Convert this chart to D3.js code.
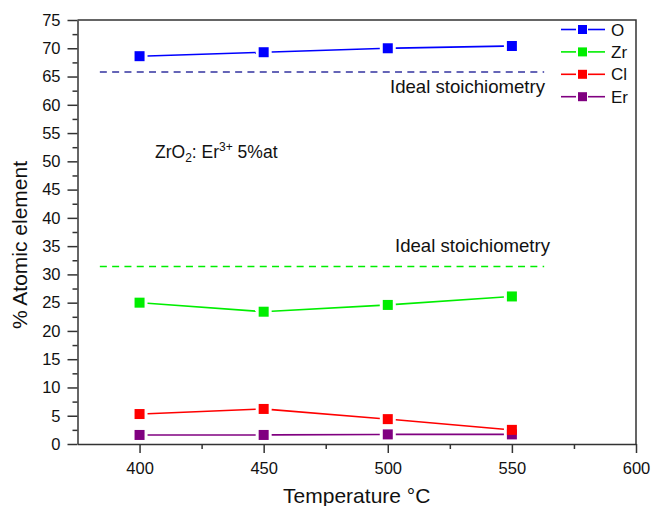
<!DOCTYPE html>
<html>
<head>
<meta charset="utf-8">
<script src="https://cdn.jsdelivr.net/npm/d3@7"></script>
<style>
  body { margin: 0; background: #fff; }
  text { font-family: Arial, "Liberation Sans", sans-serif; fill: #111; }
</style>
</head>
<body>
<svg id="chart" width="652" height="506"></svg>
<script>
// temperatures (x) and atomic % per element
var temps = [400, 450, 500, 550];
var oValues = [68.6, 69.3, 70.0, 70.4];
var zrValues = [25.0, 23.4, 24.6, 26.1];
var clValues = [5.3, 6.2, 4.4, 2.5];
var erValues = [1.6, 1.6, 1.7, 1.7];

// ideal stoichiometry reference lines
var idealO = 65.8;
var idealZr = 31.4;
var idealRange = [384, 563];

var xTicks = [400, 450, 500, 550, 600];
var xMinorTicks = [425, 475, 525, 575];
var yTicks = d3.range(0, 76, 5);
var yMinorTicks = d3.range(2.5, 75, 5);

var series = [
	{ name: "Er", values: erValues, color: "#800080" },
	{ name: "Cl", values: clValues, color: "#ff0000" },
	{ name: "Zr", values: zrValues, color: "#00ee00" },
	{ name: "O", values: oValues, color: "#0000ff" }
];
var legendOrder = ["O", "Zr", "Cl", "Er"];

var LEFT = 77.5, RIGHT = 636, TOP = 20, BOTTOM = 444;
var MARKER = 10;
var GAP = 8;

var svg = d3.select("#chart");

var x = d3.scaleLinear().domain([375, 600]).range([LEFT, RIGHT]);
var y = d3.scaleLinear().domain([0, 75]).range([BOTTOM, TOP]);

// frame top + right
svg.append("path")
	.attr("d", "M" + LEFT + "," + TOP + "H" + RIGHT + "V" + BOTTOM)
	.attr("fill", "none")
	.attr("stroke", "#333")
	.attr("stroke-width", 1.5);

function styleAxis(g) {
	g.select(".domain").attr("stroke", "#333").attr("stroke-width", 1.5);
	g.selectAll(".tick line").attr("stroke", "#333").attr("stroke-width", 1.5);
	g.selectAll(".tick text").attr("font-size", "16.5px").attr("fill", "#111");
}

// x axis
svg.append("g")
	.attr("transform", "translate(0," + BOTTOM + ")")
	.call(d3.axisBottom(x).tickValues(xTicks).tickSize(9).tickPadding(9).tickSizeOuter(0))
	.call(styleAxis);
svg.append("g")
	.attr("transform", "translate(0," + BOTTOM + ")")
	.call(d3.axisBottom(x).tickValues(xMinorTicks).tickSize(5).tickFormat("").tickSizeOuter(0))
	.call(styleAxis)
	.select(".domain").remove();

// y axis
svg.append("g")
	.attr("transform", "translate(" + LEFT + ",0)")
	.call(d3.axisLeft(y).tickValues(yTicks).tickSize(10).tickPadding(7).tickSizeOuter(0))
	.call(styleAxis);
svg.append("g")
	.attr("transform", "translate(" + LEFT + ",0)")
	.call(d3.axisLeft(y).tickValues(yMinorTicks).tickSize(5).tickFormat("").tickSizeOuter(0))
	.call(styleAxis)
	.select(".domain").remove();

// axis titles
svg.append("text")
	.attr("x", (LEFT + RIGHT) / 2)
	.attr("y", 503)
	.attr("text-anchor", "middle")
	.attr("font-size", "21px")
	.text("Temperature °C");

svg.append("text")
	.attr("transform", "translate(27,245) rotate(-90)")
	.attr("text-anchor", "middle")
	.attr("font-size", "21px")
	.text("% Atomic element");

// ideal stoichiometry dashed lines
var ideals = [
	{ value: idealO, color: "#3333a0", labelY: 93, labelX: 545 },
	{ value: idealZr, color: "#00ee00", labelY: 252, labelX: 550 }
];
ideals.forEach(function(d) {
	svg.append("line")
		.attr("x1", x(idealRange[0]))
		.attr("x2", x(idealRange[1]))
		.attr("y1", y(d.value))
		.attr("y2", y(d.value))
		.attr("stroke", d.color)
		.attr("stroke-width", 1.5)
		.attr("stroke-dasharray", "7,5.3");
	svg.append("text")
		.attr("x", d.labelX)
		.attr("y", d.labelY)
		.attr("text-anchor", "end")
		.attr("font-size", "18.6px")
		.text("Ideal stoichiometry");
});

// sample annotation
var note = svg.append("text")
	.attr("x", 155)
	.attr("y", 158)
	.attr("font-size", "17.5px");
note.append("tspan").text("ZrO");
note.append("tspan").attr("font-size", "12px").attr("dy", 4).text("2");
note.append("tspan").attr("dy", -4).text(": Er");
note.append("tspan").attr("font-size", "12px").attr("dy", -7).text("3+");
note.append("tspan").attr("dy", 7).text(" 5%at");

// series: segments shortened so they stop short of the markers
series.forEach(function(s) {
	var g = svg.append("g");
	for (var i = 0; i < temps.length - 1; i++) {
		var x1 = x(temps[i]), y1 = y(s.values[i]);
		var x2 = x(temps[i + 1]), y2 = y(s.values[i + 1]);
		var len = Math.sqrt((x2 - x1) * (x2 - x1) + (y2 - y1) * (y2 - y1));
		var ux = (x2 - x1) / len, uy = (y2 - y1) / len;
		g.append("line")
			.attr("x1", x1 + ux * GAP).attr("y1", y1 + uy * GAP)
			.attr("x2", x2 - ux * GAP).attr("y2", y2 - uy * GAP)
			.attr("stroke", s.color)
			.attr("stroke-width", 1.6);
	}
	g.selectAll("rect")
		.data(s.values)
		.enter().append("rect")
		.attr("x", function(v, i) { return x(temps[i]) - MARKER / 2; })
		.attr("y", function(v) { return y(v) - MARKER / 2; })
		.attr("width", MARKER)
		.attr("height", MARKER)
		.attr("fill", s.color);
});

// legend
var legend = svg.append("g");
legendOrder.forEach(function(name, i) {
	var s = series.filter(function(d) { return d.name === name; })[0];
	var ly = 29.5 + i * 22.4;
	legend.append("line")
		.attr("x1", 561).attr("x2", 576)
		.attr("y1", ly).attr("y2", ly)
		.attr("stroke", s.color).attr("stroke-width", 1.6);
	legend.append("line")
		.attr("x1", 588).attr("x2", 605)
		.attr("y1", ly).attr("y2", ly)
		.attr("stroke", s.color).attr("stroke-width", 1.6);
	legend.append("rect")
		.attr("x", 578).attr("y", ly - 4.5)
		.attr("width", 9).attr("height", 9)
		.attr("fill", s.color);
	legend.append("text")
		.attr("x", 611)
		.attr("y", ly + 6)
		.attr("font-size", "17px")
		.text(name);
});
</script>
</body>
</html>
